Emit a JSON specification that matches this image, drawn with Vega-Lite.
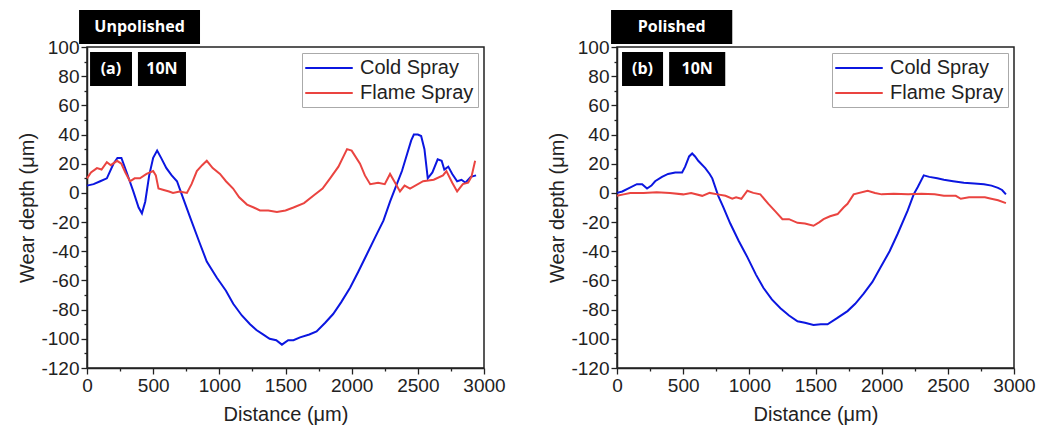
{
  "$schema": "https://vega.github.io/schema/vega-lite/v6.json",
  "padding": {"left": 17, "top": 9, "right": 5, "bottom": 2},
  "background": "white",
  "spacing": 41,
  "config": {
    "view": {"stroke": "#222", "strokeWidth": 1.5},
    "font": "Liberation Sans",
    "axis": {
      "grid": false,
      "domainColor": "#222",
      "domainWidth": 1.5,
      "tickColor": "#222",
      "tickWidth": 1.3,
      "labelFont": "Liberation Sans",
      "labelFontSize": 19,
      "labelColor": "#222",
      "labelOverlap": false,
      "labelFlush": false,
      "titleFont": "Liberation Sans",
      "titleFontSize": 20,
      "titleFontWeight": "normal",
      "titleColor": "#222",
      "labelPadding": 2
    },
    "legend": {
      "orient": "top-right",
      "offset": 6,
      "title": null,
      "strokeColor": "#aaa",
      "padding": 4,
      "labelFont": "Liberation Sans",
      "labelFontSize": 20,
      "labelColor": "#222",
      "symbolType": "M-2.5,0H2.5",
      "symbolSize": 361,
      "symbolStrokeWidth": 2.2,
      "symbolOffset": 12,
      "rowPadding": 4,
      "labelOffset": 20
    }
  },
  "datasets": {
    "profiles": [
      {"panel": "a", "series": "Cold Spray", "d": 0, "v": 5},
      {"panel": "a", "series": "Cold Spray", "d": 50, "v": 6},
      {"panel": "a", "series": "Cold Spray", "d": 100, "v": 8},
      {"panel": "a", "series": "Cold Spray", "d": 150, "v": 10},
      {"panel": "a", "series": "Cold Spray", "d": 200, "v": 20},
      {"panel": "a", "series": "Cold Spray", "d": 230, "v": 24},
      {"panel": "a", "series": "Cold Spray", "d": 260, "v": 24},
      {"panel": "a", "series": "Cold Spray", "d": 300, "v": 14},
      {"panel": "a", "series": "Cold Spray", "d": 350, "v": 1},
      {"panel": "a", "series": "Cold Spray", "d": 390, "v": -10},
      {"panel": "a", "series": "Cold Spray", "d": 415, "v": -14},
      {"panel": "a", "series": "Cold Spray", "d": 440, "v": -6},
      {"panel": "a", "series": "Cold Spray", "d": 470, "v": 12},
      {"panel": "a", "series": "Cold Spray", "d": 500, "v": 24},
      {"panel": "a", "series": "Cold Spray", "d": 530, "v": 29},
      {"panel": "a", "series": "Cold Spray", "d": 560, "v": 24},
      {"panel": "a", "series": "Cold Spray", "d": 600, "v": 17},
      {"panel": "a", "series": "Cold Spray", "d": 640, "v": 12},
      {"panel": "a", "series": "Cold Spray", "d": 680, "v": 8},
      {"panel": "a", "series": "Cold Spray", "d": 720, "v": -2},
      {"panel": "a", "series": "Cold Spray", "d": 780, "v": -17},
      {"panel": "a", "series": "Cold Spray", "d": 850, "v": -34},
      {"panel": "a", "series": "Cold Spray", "d": 905, "v": -47},
      {"panel": "a", "series": "Cold Spray", "d": 980, "v": -58},
      {"panel": "a", "series": "Cold Spray", "d": 1050, "v": -67},
      {"panel": "a", "series": "Cold Spray", "d": 1105, "v": -76},
      {"panel": "a", "series": "Cold Spray", "d": 1170, "v": -84},
      {"panel": "a", "series": "Cold Spray", "d": 1232, "v": -90},
      {"panel": "a", "series": "Cold Spray", "d": 1280, "v": -94},
      {"panel": "a", "series": "Cold Spray", "d": 1330, "v": -97},
      {"panel": "a", "series": "Cold Spray", "d": 1380, "v": -100},
      {"panel": "a", "series": "Cold Spray", "d": 1430, "v": -101},
      {"panel": "a", "series": "Cold Spray", "d": 1473, "v": -104},
      {"panel": "a", "series": "Cold Spray", "d": 1520, "v": -101},
      {"panel": "a", "series": "Cold Spray", "d": 1560, "v": -101},
      {"panel": "a", "series": "Cold Spray", "d": 1610, "v": -99},
      {"panel": "a", "series": "Cold Spray", "d": 1680, "v": -97},
      {"panel": "a", "series": "Cold Spray", "d": 1735, "v": -95},
      {"panel": "a", "series": "Cold Spray", "d": 1800, "v": -89},
      {"panel": "a", "series": "Cold Spray", "d": 1860, "v": -83},
      {"panel": "a", "series": "Cold Spray", "d": 1920, "v": -75},
      {"panel": "a", "series": "Cold Spray", "d": 1988, "v": -65},
      {"panel": "a", "series": "Cold Spray", "d": 2050, "v": -54},
      {"panel": "a", "series": "Cold Spray", "d": 2115, "v": -42},
      {"panel": "a", "series": "Cold Spray", "d": 2180, "v": -30},
      {"panel": "a", "series": "Cold Spray", "d": 2240, "v": -19},
      {"panel": "a", "series": "Cold Spray", "d": 2290, "v": -6},
      {"panel": "a", "series": "Cold Spray", "d": 2328, "v": 3},
      {"panel": "a", "series": "Cold Spray", "d": 2380, "v": 15},
      {"panel": "a", "series": "Cold Spray", "d": 2420, "v": 27},
      {"panel": "a", "series": "Cold Spray", "d": 2450, "v": 36},
      {"panel": "a", "series": "Cold Spray", "d": 2470, "v": 40},
      {"panel": "a", "series": "Cold Spray", "d": 2500, "v": 40},
      {"panel": "a", "series": "Cold Spray", "d": 2525, "v": 39},
      {"panel": "a", "series": "Cold Spray", "d": 2550, "v": 30},
      {"panel": "a", "series": "Cold Spray", "d": 2575, "v": 10},
      {"panel": "a", "series": "Cold Spray", "d": 2610, "v": 14},
      {"panel": "a", "series": "Cold Spray", "d": 2650, "v": 23},
      {"panel": "a", "series": "Cold Spray", "d": 2680, "v": 22},
      {"panel": "a", "series": "Cold Spray", "d": 2700, "v": 16},
      {"panel": "a", "series": "Cold Spray", "d": 2730, "v": 18},
      {"panel": "a", "series": "Cold Spray", "d": 2760, "v": 13},
      {"panel": "a", "series": "Cold Spray", "d": 2797, "v": 8},
      {"panel": "a", "series": "Cold Spray", "d": 2830, "v": 9},
      {"panel": "a", "series": "Cold Spray", "d": 2860, "v": 7},
      {"panel": "a", "series": "Cold Spray", "d": 2900, "v": 11},
      {"panel": "a", "series": "Cold Spray", "d": 2940, "v": 12},
      {"panel": "a", "series": "Flame Spray", "d": 0, "v": 10},
      {"panel": "a", "series": "Flame Spray", "d": 30, "v": 14},
      {"panel": "a", "series": "Flame Spray", "d": 75, "v": 17},
      {"panel": "a", "series": "Flame Spray", "d": 110, "v": 16},
      {"panel": "a", "series": "Flame Spray", "d": 150, "v": 21},
      {"panel": "a", "series": "Flame Spray", "d": 180, "v": 19},
      {"panel": "a", "series": "Flame Spray", "d": 227, "v": 22},
      {"panel": "a", "series": "Flame Spray", "d": 260, "v": 20},
      {"panel": "a", "series": "Flame Spray", "d": 290, "v": 14},
      {"panel": "a", "series": "Flame Spray", "d": 325, "v": 8},
      {"panel": "a", "series": "Flame Spray", "d": 360, "v": 10},
      {"panel": "a", "series": "Flame Spray", "d": 400, "v": 10},
      {"panel": "a", "series": "Flame Spray", "d": 450, "v": 13},
      {"panel": "a", "series": "Flame Spray", "d": 500, "v": 15},
      {"panel": "a", "series": "Flame Spray", "d": 520, "v": 12},
      {"panel": "a", "series": "Flame Spray", "d": 540, "v": 3},
      {"panel": "a", "series": "Flame Spray", "d": 580, "v": 2},
      {"panel": "a", "series": "Flame Spray", "d": 620, "v": 1},
      {"panel": "a", "series": "Flame Spray", "d": 650, "v": 0},
      {"panel": "a", "series": "Flame Spray", "d": 700, "v": 1},
      {"panel": "a", "series": "Flame Spray", "d": 755, "v": 0},
      {"panel": "a", "series": "Flame Spray", "d": 790, "v": 6},
      {"panel": "a", "series": "Flame Spray", "d": 830, "v": 15},
      {"panel": "a", "series": "Flame Spray", "d": 870, "v": 19},
      {"panel": "a", "series": "Flame Spray", "d": 905, "v": 22},
      {"panel": "a", "series": "Flame Spray", "d": 950, "v": 17},
      {"panel": "a", "series": "Flame Spray", "d": 1005, "v": 13},
      {"panel": "a", "series": "Flame Spray", "d": 1050, "v": 8},
      {"panel": "a", "series": "Flame Spray", "d": 1104, "v": 3},
      {"panel": "a", "series": "Flame Spray", "d": 1150, "v": -3},
      {"panel": "a", "series": "Flame Spray", "d": 1209, "v": -8},
      {"panel": "a", "series": "Flame Spray", "d": 1260, "v": -10},
      {"panel": "a", "series": "Flame Spray", "d": 1307, "v": -12},
      {"panel": "a", "series": "Flame Spray", "d": 1370, "v": -12},
      {"panel": "a", "series": "Flame Spray", "d": 1435, "v": -13},
      {"panel": "a", "series": "Flame Spray", "d": 1500, "v": -12},
      {"panel": "a", "series": "Flame Spray", "d": 1560, "v": -10},
      {"panel": "a", "series": "Flame Spray", "d": 1640, "v": -7},
      {"panel": "a", "series": "Flame Spray", "d": 1710, "v": -2},
      {"panel": "a", "series": "Flame Spray", "d": 1780, "v": 3},
      {"panel": "a", "series": "Flame Spray", "d": 1837, "v": 10},
      {"panel": "a", "series": "Flame Spray", "d": 1900, "v": 18},
      {"panel": "a", "series": "Flame Spray", "d": 1965, "v": 30},
      {"panel": "a", "series": "Flame Spray", "d": 2000, "v": 29},
      {"panel": "a", "series": "Flame Spray", "d": 2063, "v": 20},
      {"panel": "a", "series": "Flame Spray", "d": 2100, "v": 12},
      {"panel": "a", "series": "Flame Spray", "d": 2140, "v": 6},
      {"panel": "a", "series": "Flame Spray", "d": 2200, "v": 7},
      {"panel": "a", "series": "Flame Spray", "d": 2250, "v": 6},
      {"panel": "a", "series": "Flame Spray", "d": 2290, "v": 13},
      {"panel": "a", "series": "Flame Spray", "d": 2340, "v": 5},
      {"panel": "a", "series": "Flame Spray", "d": 2365, "v": 1},
      {"panel": "a", "series": "Flame Spray", "d": 2400, "v": 5},
      {"panel": "a", "series": "Flame Spray", "d": 2441, "v": 3},
      {"panel": "a", "series": "Flame Spray", "d": 2540, "v": 8},
      {"panel": "a", "series": "Flame Spray", "d": 2620, "v": 9},
      {"panel": "a", "series": "Flame Spray", "d": 2690, "v": 12},
      {"panel": "a", "series": "Flame Spray", "d": 2716, "v": 15},
      {"panel": "a", "series": "Flame Spray", "d": 2760, "v": 7},
      {"panel": "a", "series": "Flame Spray", "d": 2797, "v": 1},
      {"panel": "a", "series": "Flame Spray", "d": 2840, "v": 6},
      {"panel": "a", "series": "Flame Spray", "d": 2880, "v": 7},
      {"panel": "a", "series": "Flame Spray", "d": 2905, "v": 11},
      {"panel": "a", "series": "Flame Spray", "d": 2933, "v": 22},
      {"panel": "b", "series": "Cold Spray", "d": 0, "v": 0},
      {"panel": "b", "series": "Cold Spray", "d": 40, "v": 1},
      {"panel": "b", "series": "Cold Spray", "d": 83, "v": 3},
      {"panel": "b", "series": "Cold Spray", "d": 150, "v": 6},
      {"panel": "b", "series": "Cold Spray", "d": 190, "v": 6},
      {"panel": "b", "series": "Cold Spray", "d": 227, "v": 3},
      {"panel": "b", "series": "Cold Spray", "d": 260, "v": 5},
      {"panel": "b", "series": "Cold Spray", "d": 288, "v": 8},
      {"panel": "b", "series": "Cold Spray", "d": 340, "v": 11},
      {"panel": "b", "series": "Cold Spray", "d": 386, "v": 13},
      {"panel": "b", "series": "Cold Spray", "d": 440, "v": 14},
      {"panel": "b", "series": "Cold Spray", "d": 492, "v": 14},
      {"panel": "b", "series": "Cold Spray", "d": 515, "v": 18},
      {"panel": "b", "series": "Cold Spray", "d": 545, "v": 25},
      {"panel": "b", "series": "Cold Spray", "d": 568, "v": 27},
      {"panel": "b", "series": "Cold Spray", "d": 590, "v": 25},
      {"panel": "b", "series": "Cold Spray", "d": 614, "v": 22},
      {"panel": "b", "series": "Cold Spray", "d": 667, "v": 17},
      {"panel": "b", "series": "Cold Spray", "d": 700, "v": 13},
      {"panel": "b", "series": "Cold Spray", "d": 720, "v": 10},
      {"panel": "b", "series": "Cold Spray", "d": 765, "v": -2},
      {"panel": "b", "series": "Cold Spray", "d": 800, "v": -9},
      {"panel": "b", "series": "Cold Spray", "d": 856, "v": -21},
      {"panel": "b", "series": "Cold Spray", "d": 920, "v": -33},
      {"panel": "b", "series": "Cold Spray", "d": 985, "v": -44},
      {"panel": "b", "series": "Cold Spray", "d": 1050, "v": -56},
      {"panel": "b", "series": "Cold Spray", "d": 1106, "v": -65},
      {"panel": "b", "series": "Cold Spray", "d": 1170, "v": -73},
      {"panel": "b", "series": "Cold Spray", "d": 1235, "v": -79},
      {"panel": "b", "series": "Cold Spray", "d": 1300, "v": -84},
      {"panel": "b", "series": "Cold Spray", "d": 1364, "v": -88},
      {"panel": "b", "series": "Cold Spray", "d": 1420, "v": -89},
      {"panel": "b", "series": "Cold Spray", "d": 1485, "v": -90.5},
      {"panel": "b", "series": "Cold Spray", "d": 1540, "v": -90},
      {"panel": "b", "series": "Cold Spray", "d": 1591, "v": -90},
      {"panel": "b", "series": "Cold Spray", "d": 1660, "v": -86},
      {"panel": "b", "series": "Cold Spray", "d": 1742, "v": -81},
      {"panel": "b", "series": "Cold Spray", "d": 1800, "v": -76},
      {"panel": "b", "series": "Cold Spray", "d": 1864, "v": -69},
      {"panel": "b", "series": "Cold Spray", "d": 1930, "v": -61},
      {"panel": "b", "series": "Cold Spray", "d": 1992, "v": -51},
      {"panel": "b", "series": "Cold Spray", "d": 2060, "v": -40},
      {"panel": "b", "series": "Cold Spray", "d": 2121, "v": -28},
      {"panel": "b", "series": "Cold Spray", "d": 2197, "v": -12},
      {"panel": "b", "series": "Cold Spray", "d": 2242, "v": -1},
      {"panel": "b", "series": "Cold Spray", "d": 2273, "v": 4},
      {"panel": "b", "series": "Cold Spray", "d": 2318, "v": 12},
      {"panel": "b", "series": "Cold Spray", "d": 2360, "v": 11},
      {"panel": "b", "series": "Cold Spray", "d": 2420, "v": 10},
      {"panel": "b", "series": "Cold Spray", "d": 2470, "v": 9},
      {"panel": "b", "series": "Cold Spray", "d": 2540, "v": 8},
      {"panel": "b", "series": "Cold Spray", "d": 2621, "v": 7},
      {"panel": "b", "series": "Cold Spray", "d": 2700, "v": 6.5},
      {"panel": "b", "series": "Cold Spray", "d": 2773, "v": 6},
      {"panel": "b", "series": "Cold Spray", "d": 2830, "v": 5},
      {"panel": "b", "series": "Cold Spray", "d": 2879, "v": 3.5},
      {"panel": "b", "series": "Cold Spray", "d": 2910, "v": 2},
      {"panel": "b", "series": "Cold Spray", "d": 2939, "v": -1},
      {"panel": "b", "series": "Flame Spray", "d": 0, "v": -2},
      {"panel": "b", "series": "Flame Spray", "d": 50, "v": -1},
      {"panel": "b", "series": "Flame Spray", "d": 100, "v": 0},
      {"panel": "b", "series": "Flame Spray", "d": 200, "v": 0},
      {"panel": "b", "series": "Flame Spray", "d": 300, "v": 0.5},
      {"panel": "b", "series": "Flame Spray", "d": 400, "v": 0},
      {"panel": "b", "series": "Flame Spray", "d": 500, "v": -1},
      {"panel": "b", "series": "Flame Spray", "d": 560, "v": 0},
      {"panel": "b", "series": "Flame Spray", "d": 644, "v": -2},
      {"panel": "b", "series": "Flame Spray", "d": 700, "v": 0},
      {"panel": "b", "series": "Flame Spray", "d": 760, "v": -1},
      {"panel": "b", "series": "Flame Spray", "d": 820, "v": -2},
      {"panel": "b", "series": "Flame Spray", "d": 871, "v": -4},
      {"panel": "b", "series": "Flame Spray", "d": 900, "v": -3},
      {"panel": "b", "series": "Flame Spray", "d": 940, "v": -4},
      {"panel": "b", "series": "Flame Spray", "d": 985, "v": 1.5},
      {"panel": "b", "series": "Flame Spray", "d": 1030, "v": 0},
      {"panel": "b", "series": "Flame Spray", "d": 1083, "v": -1},
      {"panel": "b", "series": "Flame Spray", "d": 1144, "v": -7.5},
      {"panel": "b", "series": "Flame Spray", "d": 1200, "v": -13},
      {"panel": "b", "series": "Flame Spray", "d": 1250, "v": -18},
      {"panel": "b", "series": "Flame Spray", "d": 1300, "v": -18},
      {"panel": "b", "series": "Flame Spray", "d": 1364, "v": -20.5},
      {"panel": "b", "series": "Flame Spray", "d": 1420, "v": -21},
      {"panel": "b", "series": "Flame Spray", "d": 1485, "v": -22.5},
      {"panel": "b", "series": "Flame Spray", "d": 1530, "v": -20},
      {"panel": "b", "series": "Flame Spray", "d": 1561, "v": -18},
      {"panel": "b", "series": "Flame Spray", "d": 1610, "v": -16},
      {"panel": "b", "series": "Flame Spray", "d": 1667, "v": -14.5},
      {"panel": "b", "series": "Flame Spray", "d": 1712, "v": -10},
      {"panel": "b", "series": "Flame Spray", "d": 1742, "v": -7.5},
      {"panel": "b", "series": "Flame Spray", "d": 1788, "v": -1},
      {"panel": "b", "series": "Flame Spray", "d": 1894, "v": 1.5},
      {"panel": "b", "series": "Flame Spray", "d": 1950, "v": 0},
      {"panel": "b", "series": "Flame Spray", "d": 2000, "v": -1},
      {"panel": "b", "series": "Flame Spray", "d": 2091, "v": -0.5},
      {"panel": "b", "series": "Flame Spray", "d": 2200, "v": -1},
      {"panel": "b", "series": "Flame Spray", "d": 2300, "v": -0.5},
      {"panel": "b", "series": "Flame Spray", "d": 2400, "v": -1},
      {"panel": "b", "series": "Flame Spray", "d": 2470, "v": -2},
      {"panel": "b", "series": "Flame Spray", "d": 2560, "v": -2},
      {"panel": "b", "series": "Flame Spray", "d": 2598, "v": -4},
      {"panel": "b", "series": "Flame Spray", "d": 2660, "v": -3},
      {"panel": "b", "series": "Flame Spray", "d": 2727, "v": -3},
      {"panel": "b", "series": "Flame Spray", "d": 2780, "v": -3},
      {"panel": "b", "series": "Flame Spray", "d": 2828, "v": -4},
      {"panel": "b", "series": "Flame Spray", "d": 2880, "v": -5},
      {"panel": "b", "series": "Flame Spray", "d": 2939, "v": -7}
    ],
    "labels": [
      {"panel": "a", "label": "Unpolished", "x1": -60, "x2": 854, "y1": 102, "y2": 125.4, "xm": 397, "ym": 113.7},
      {"panel": "a", "label": "(a)", "x1": 23, "x2": 340, "y1": 73.3, "y2": 96.6, "xm": 181, "ym": 85},
      {"panel": "a", "label": "10N", "x1": 385, "x2": 748, "y1": 73.3, "y2": 96.6, "xm": 566, "ym": 85},
      {"panel": "b", "label": "Polished", "x1": -45, "x2": 871, "y1": 102, "y2": 125.4, "xm": 413, "ym": 113.7},
      {"panel": "b", "label": "(b)", "x1": 38, "x2": 348, "y1": 73.3, "y2": 96.6, "xm": 193, "ym": 85},
      {"panel": "b", "label": "10N", "x1": 394, "x2": 818, "y1": 73.3, "y2": 96.6, "xm": 606, "ym": 85}
    ]
  },
  "hconcat": [
    {
      "width": 397,
      "height": 321,
      "layer": [
        {
          "data": {"name": "profiles"},
          "transform": [{"filter": "datum.panel === 'a'"}],
          "mark": {"type": "line", "strokeWidth": 2, "interpolate": "linear"},
          "encoding": {
            "x": {"field": "d", "type": "quantitative", "scale": {"domain": [0, 3000], "nice": false, "zero": false}, "axis": {"title": "Distance (μm)", "tickCount": 40, "values": [0, 250, 500, 750, 1000, 1250, 1500, 1750, 2000, 2250, 2500, 2750, 3000], "labelOverlap": false, "labelExpr": "datum.value % 500 === 0 ? '' + datum.value : ''", "tickSize": {"expr": "datum.value % 500 === 0 ? 6 : 3"}, "titlePadding": 9}},
            "y": {"field": "v", "type": "quantitative", "scale": {"domain": [-120, 100], "nice": false, "zero": false}, "axis": {"title": "Wear depth (μm)", "tickCount": 40, "values": [-120, -110, -100, -90, -80, -70, -60, -50, -40, -30, -20, -10, 0, 10, 20, 30, 40, 50, 60, 70, 80, 90, 100], "labelOverlap": false, "labelExpr": "datum.value % 20 === 0 ? '' + datum.value : ''", "tickSize": {"expr": "datum.value % 20 === 0 ? 6 : 3"}, "titlePadding": 3}},
            "color": {"field": "series", "type": "nominal", "scale": {"domain": ["Cold Spray", "Flame Spray"], "range": ["#0b16e0", "#ea4440"]}},
            "order": {"field": "d", "type": "quantitative"}
          }
        },
        {
          "data": {"name": "labels"},
          "transform": [{"filter": "datum.panel === 'a'"}],
          "mark": {"type": "rect", "color": "black", "clip": false},
          "encoding": {
            "x": {"field": "x1", "type": "quantitative"},
            "x2": {"field": "x2"},
            "y": {"field": "y1", "type": "quantitative"},
            "y2": {"field": "y2"}
          }
        },
        {
          "data": {"name": "labels"},
          "transform": [{"filter": "datum.panel === 'a'"}],
          "mark": {"type": "text", "color": "white", "font": "Open Sans", "fontWeight": "bold", "fontSize": 16, "clip": false, "baseline": "middle", "align": "center"},
          "encoding": {
            "x": {"field": "xm", "type": "quantitative"},
            "y": {"field": "ym", "type": "quantitative"},
            "text": {"field": "label"}
          }
        }
      ]
    },
    {
      "width": 397,
      "height": 321,
      "layer": [
        {
          "data": {"name": "profiles"},
          "transform": [{"filter": "datum.panel === 'b'"}],
          "mark": {"type": "line", "strokeWidth": 2, "interpolate": "linear"},
          "encoding": {
            "x": {"field": "d", "type": "quantitative", "scale": {"domain": [0, 3000], "nice": false, "zero": false}, "axis": {"title": "Distance (μm)", "tickCount": 40, "values": [0, 250, 500, 750, 1000, 1250, 1500, 1750, 2000, 2250, 2500, 2750, 3000], "labelOverlap": false, "labelExpr": "datum.value % 500 === 0 ? '' + datum.value : ''", "tickSize": {"expr": "datum.value % 500 === 0 ? 6 : 3"}, "titlePadding": 9}},
            "y": {"field": "v", "type": "quantitative", "scale": {"domain": [-120, 100], "nice": false, "zero": false}, "axis": {"title": "Wear depth (μm)", "tickCount": 40, "values": [-120, -110, -100, -90, -80, -70, -60, -50, -40, -30, -20, -10, 0, 10, 20, 30, 40, 50, 60, 70, 80, 90, 100], "labelOverlap": false, "labelExpr": "datum.value % 20 === 0 ? '' + datum.value : ''", "tickSize": {"expr": "datum.value % 20 === 0 ? 6 : 3"}, "titlePadding": 3}},
            "color": {"field": "series", "type": "nominal", "scale": {"domain": ["Cold Spray", "Flame Spray"], "range": ["#0b16e0", "#ea4440"]}},
            "order": {"field": "d", "type": "quantitative"}
          }
        },
        {
          "data": {"name": "labels"},
          "transform": [{"filter": "datum.panel === 'b'"}],
          "mark": {"type": "rect", "color": "black", "clip": false},
          "encoding": {
            "x": {"field": "x1", "type": "quantitative"},
            "x2": {"field": "x2"},
            "y": {"field": "y1", "type": "quantitative"},
            "y2": {"field": "y2"}
          }
        },
        {
          "data": {"name": "labels"},
          "transform": [{"filter": "datum.panel === 'b'"}],
          "mark": {"type": "text", "color": "white", "font": "Open Sans", "fontWeight": "bold", "fontSize": 16, "clip": false, "baseline": "middle", "align": "center"},
          "encoding": {
            "x": {"field": "xm", "type": "quantitative"},
            "y": {"field": "ym", "type": "quantitative"},
            "text": {"field": "label"}
          }
        }
      ]
    }
  ],
  "resolve": {"legend": {"color": "independent"}, "scale": {"color": "shared"}}
}
